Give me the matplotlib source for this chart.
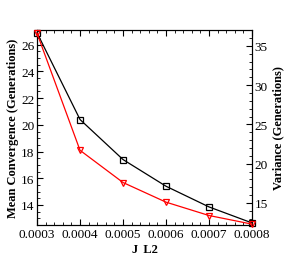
import matplotlib
matplotlib.use('Agg')
import matplotlib.pyplot as plt
from matplotlib.ticker import MultipleLocator

# Data
j_l2 = [0.0003, 0.0004, 0.0005, 0.0006, 0.0007, 0.0008]
mean_conv = [26.9, 20.4, 17.4, 15.4, 13.85, 12.65]
variance = [36.6, 21.7, 17.6, 15.1, 13.4, 12.3]

plt.rcParams['font.family'] = ['Liberation Serif', 'DejaVu Serif']

fig = plt.figure(figsize=(2.87, 2.55), dpi=100)
ax = fig.add_axes([0.129, 0.114, 0.749, 0.764])
ax2 = ax.twinx()

ax.plot(j_l2, mean_conv, color='black', lw=0.9, marker='s', ms=5,
        mfc='none', mec='black', mew=0.9, clip_on=False, zorder=3)
ax2.plot(j_l2, variance, color='red', lw=0.9, marker='v', ms=5,
         mfc='none', mec='red', mew=0.9, clip_on=False, zorder=3)

ax.set_xlim(0.0003, 0.0008)
ax.set_ylim(12.5, 27.1)
ax2.set_ylim(12.2, 37.0)

ax.set_xticks(j_l2)
ax.set_xticklabels(['0.0003', '0.0004', '0.0005', '0.0006', '0.0007', '0.0008'])
ax.xaxis.set_minor_locator(MultipleLocator(0.00002))
ax.yaxis.set_major_locator(MultipleLocator(2))
ax.yaxis.set_minor_locator(MultipleLocator(0.5))
ax2.yaxis.set_major_locator(MultipleLocator(5))
ax2.yaxis.set_minor_locator(MultipleLocator(1))

ax.tick_params(which='both', direction='in', top=True, right=False, labelsize=9.5, pad=2)
ax.tick_params(which='major', length=4, width=0.8)
ax.tick_params(which='minor', length=2, width=0.6)
ax2.tick_params(which='both', direction='in', labelsize=9.5, pad=2)
ax2.tick_params(which='major', length=4, width=0.8)
ax2.tick_params(which='minor', length=2, width=0.6)

ax.set_xlabel('J_L2', fontsize=9, fontweight='bold', labelpad=2)
ax.set_ylabel('Mean Convergence (Generations)', fontsize=9, fontweight='bold', labelpad=1)
ax2.set_ylabel('Variance (Generations)', fontsize=9, fontweight='bold', labelpad=3)

for sp in ax.spines.values():
    sp.set_linewidth(0.8)
for sp in ax2.spines.values():
    sp.set_linewidth(0.8)

fig.savefig('out.png', dpi=100)
